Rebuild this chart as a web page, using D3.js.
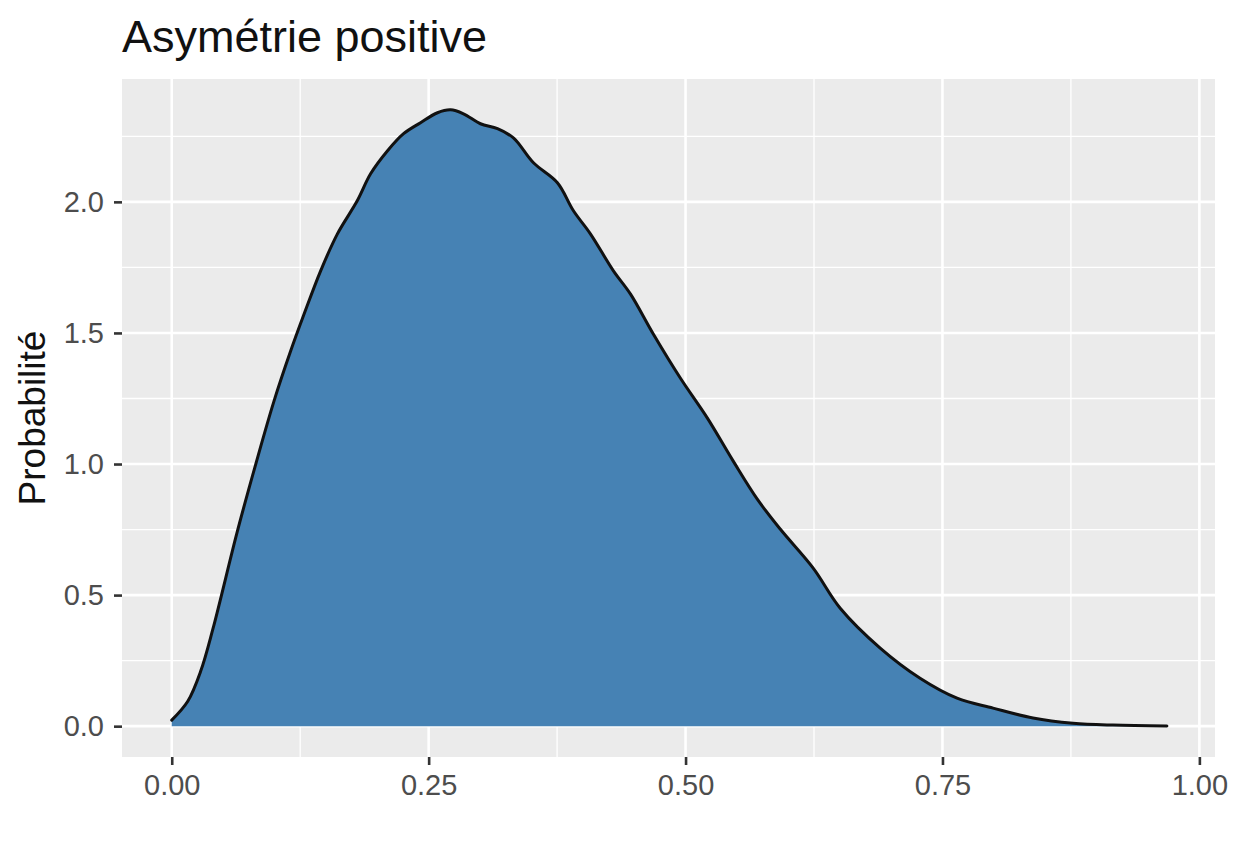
<!DOCTYPE html>
<html>
<head>
<meta charset="utf-8">
<script src="https://cdn.jsdelivr.net/npm/d3@7"></script>
<style>
  body { margin: 0; background: #fff; }
  text { font-family: "Liberation Sans", Arial, sans-serif; }
</style>
</head>
<body>
<script>
// density values
let xValues = [0, 0.0156, 0.0282, 0.04, 0.0639, 0.0817, 0.0995, 0.1157, 0.1287, 0.1449, 0.1611,
  0.1805, 0.1935, 0.21, 0.2256, 0.2421, 0.2586, 0.2713, 0.2839, 0.3004, 0.317, 0.3325, 0.352, 0.3753,
  0.3909, 0.4074, 0.4298, 0.4463, 0.4686, 0.4949, 0.5211, 0.5464, 0.5698, 0.5921, 0.6242, 0.6505,
  0.6894, 0.7282, 0.7642, 0.7992, 0.8381, 0.877, 0.9159, 0.9684];
let densityValues = [0.023, 0.095, 0.21, 0.37, 0.744, 0.999, 1.24, 1.431, 1.571, 1.737, 1.877,
  2.004, 2.107, 2.195, 2.26, 2.302, 2.34, 2.351, 2.336, 2.298, 2.279, 2.244, 2.149, 2.073,
  1.966, 1.878, 1.737, 1.649, 1.496, 1.328, 1.176, 1.011, 0.866, 0.752, 0.603, 0.45,
  0.298, 0.183, 0.107, 0.069, 0.031, 0.011, 0.004, 0.001];
let xTicks = [0, 0.25, 0.5, 0.75, 1];
let xTickLabels = ["0.00", "0.25", "0.50", "0.75", "1.00"];
let yTicks = [0, 0.5, 1, 1.5, 2];
let yTickLabels = ["0.0", "0.5", "1.0", "1.5", "2.0"];
let xMinor = [0.125, 0.375, 0.625, 0.875];
let yMinor = [0.25, 0.75, 1.25, 1.75, 2.25];
let titleText = "Asymétrie positive";
let yLabel = "Probabilité";

let width = 1234, height = 864;
let panel = {left: 122, right: 1215, top: 79, bottom: 757};

let data = xValues.map(function(x, i){ return {x: x, y: densityValues[i]}; });

let svg = d3.select("body").append("svg")
    .attr("width", width)
    .attr("height", height);

// panel limits like ggplot (5% expansion)
let x = d3.scaleLinear()
    .domain([-0.0484, 1.0152])
    .range([panel.left, panel.right]);
let y = d3.scaleLinear()
    .domain([-0.1176, 2.4687])
    .range([panel.bottom, panel.top]);

svg.append("rect")
    .attr("x", panel.left)
    .attr("y", panel.top)
    .attr("width", panel.right - panel.left)
    .attr("height", panel.bottom - panel.top)
    .attr("fill", "#ebebeb");

// minor grid
svg.selectAll(".xminor").data(xMinor).enter().append("line")
    .attr("x1", x).attr("x2", x)
    .attr("y1", panel.top).attr("y2", panel.bottom)
    .attr("stroke", "#fff").attr("stroke-width", 1.3);
svg.selectAll(".yminor").data(yMinor).enter().append("line")
    .attr("y1", y).attr("y2", y)
    .attr("x1", panel.left).attr("x2", panel.right)
    .attr("stroke", "#fff").attr("stroke-width", 1.3);

// major grid
svg.selectAll(".xmajor").data(xTicks).enter().append("line")
    .attr("x1", x).attr("x2", x)
    .attr("y1", panel.top).attr("y2", panel.bottom)
    .attr("stroke", "#fff").attr("stroke-width", 2.6);
svg.selectAll(".ymajor").data(yTicks).enter().append("line")
    .attr("y1", y).attr("y2", y)
    .attr("x1", panel.left).attr("x2", panel.right)
    .attr("stroke", "#fff").attr("stroke-width", 2.6);

// density area, outline only on the upper edge
let area = d3.area()
    .x(function(d){ return x(d.x); })
    .y0(y(0))
    .y1(function(d){ return y(d.y); })
    .curve(d3.curveCatmullRom.alpha(0.5));
let line = d3.line()
    .x(function(d){ return x(d.x); })
    .y(function(d){ return y(d.y); })
    .curve(d3.curveCatmullRom.alpha(0.5));

svg.append("path").datum(data)
    .attr("d", area)
    .attr("fill", "#4682b4");
svg.append("path").datum(data)
    .attr("d", line)
    .attr("fill", "none")
    .attr("stroke", "#111")
    .attr("stroke-width", 3)
    .attr("stroke-linejoin", "round")
    .attr("stroke-linecap", "round");

// axes
let xAxis = svg.append("g")
    .attr("transform", "translate(0," + panel.bottom + ")")
    .call(d3.axisBottom(x).tickValues(xTicks)
      .tickFormat(function(d, i){ return xTickLabels[i]; })
      .tickSize(8).tickPadding(9));
let yAxis = svg.append("g")
    .attr("transform", "translate(" + panel.left + ",0)")
    .call(d3.axisLeft(y).tickValues(yTicks)
      .tickFormat(function(d, i){ return yTickLabels[i]; })
      .tickSize(8).tickPadding(10));

[xAxis, yAxis].forEach(function(a){
  a.select(".domain").remove();
  a.selectAll(".tick line").attr("stroke", "#333").attr("stroke-width", 2.6);
  a.selectAll(".tick text")
    .attr("fill", "#4d4d4d")
    .style("font-size", "29px")
    .style("font-family", "'Liberation Sans', Arial, sans-serif");
});

// title
svg.append("text")
    .attr("x", panel.left)
    .attr("y", 52)
    .attr("fill", "#111")
    .style("font-size", "45px")
    .text(titleText);

// y label
svg.append("text")
    .attr("transform", "translate(45," + ((panel.top + panel.bottom) / 2) + ") rotate(-90)")
    .attr("text-anchor", "middle")
    .attr("fill", "#111")
    .style("font-size", "37px")
    .text(yLabel);
</script>
</body>
</html>
